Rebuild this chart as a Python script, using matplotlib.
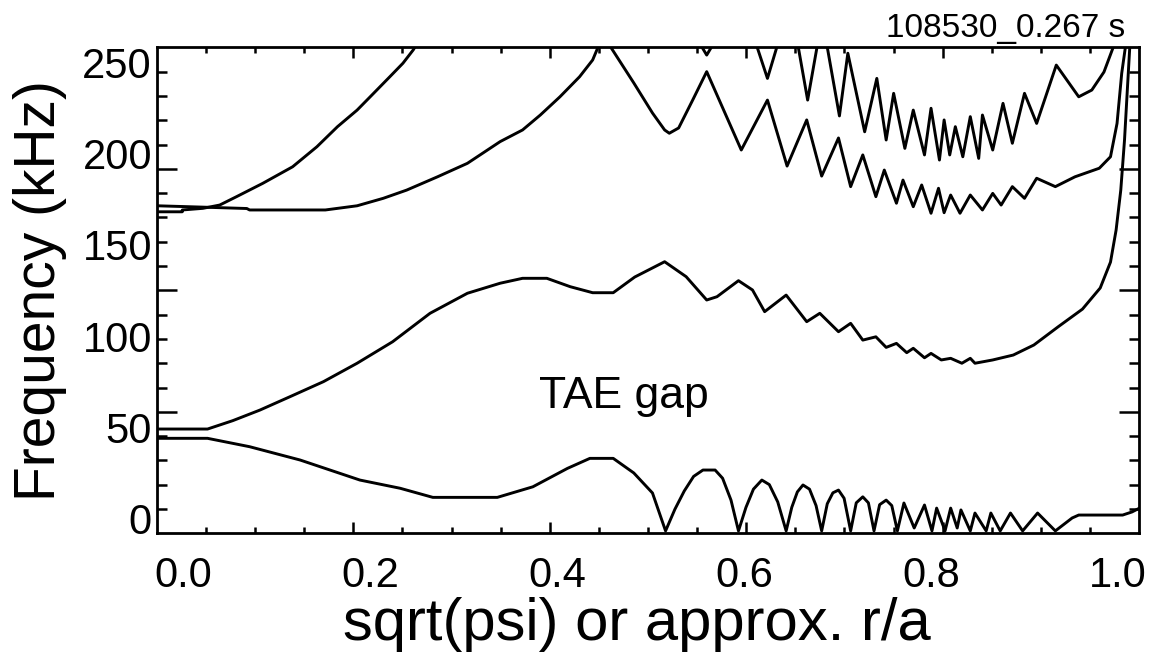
import numpy as np
import matplotlib.pyplot as plt

plt.rcParams['font.family'] = ['Liberation Sans', 'DejaVu Sans']

# Alfven continuum branches, frequency (kHz) vs sqrt(psi)
# lowest branch (bottom of the TAE gap)
b1_x = [-0.028, 0.026, 0.071, 0.125, 0.189, 0.232, 0.267, 0.336, 0.374, 0.411,
        0.435, 0.460, 0.482, 0.502, 0.516, 0.526, 0.536, 0.546, 0.556, 0.569,
        0.577, 0.586, 0.594, 0.602, 0.610, 0.619, 0.627, 0.636, 0.645, 0.651,
        0.657, 0.663, 0.670, 0.677, 0.683, 0.689, 0.695, 0.701, 0.707, 0.714,
        0.720, 0.727, 0.733, 0.739, 0.745, 0.752, 0.758, 0.764, 0.771, 0.782,
        0.793, 0.801, 0.806, 0.815, 0.821, 0.828, 0.832, 0.842, 0.847, 0.859,
        0.864, 0.874, 0.885, 0.898, 0.914, 0.933, 0.951, 0.958, 1.005, 1.015,
        1.023]
b1_f = [43.9, 43.9, 39.3, 32.0, 21.0, 16.5, 11.5, 11.5, 17.3, 27.4,
        32.9, 32.9, 24.9, 13.9, -6.9, 5.0, 15.0, 23.0, 26.5, 26.5,
        22.0, 10.0, -6.9, 6.0, 16.0, 21.0, 18.5, 9.0, -6.9, 6.0,
        14.5, 18.3, 16.0, 7.0, -6.9, 8.0, 14.0, 15.5, 11.0, -6.9,
        8.5, 11.8, 8.5, -6.9, 7.5, 10.0, 7.0, -6.9, 8.4, -5.3,
        7.3, -6.9, 5.6, -6.9, 5.6, -5.3, 4.6, -6.9, 2.9, -6.9,
        2.9, -6.9, 2.9, -6.9, 2.9, -6.9, 0.2, 1.8, 1.8, 3.5,
        5.6]

# top of the TAE gap
b2_x = [-0.028, 0.026, 0.053, 0.082, 0.114, 0.150, 0.186, 0.224, 0.264, 0.304,
        0.339, 0.363, 0.389, 0.414, 0.438, 0.460, 0.483, 0.515, 0.538, 0.560,
        0.571, 0.594, 0.609, 0.622, 0.645, 0.667, 0.681, 0.701, 0.714, 0.727,
        0.741, 0.752, 0.763, 0.774, 0.781, 0.793, 0.800, 0.811, 0.821, 0.833,
        0.842, 0.847, 0.866, 0.888, 0.910, 0.936, 0.962, 0.981, 0.992, 0.998,
        1.003, 1.007, 1.010, 1.013]
b2_f = [49.0, 49.0, 53.6, 59.4, 66.7, 75.0, 85.1, 96.9, 112.5, 123.5,
        129.0, 131.7, 131.7, 127.1, 123.8, 123.8, 132.4, 140.8, 132.6, 119.8,
        121.6, 130.4, 125.3, 113.4, 122.5, 107.9, 112.5, 102.4, 107.0, 97.8,
        99.6, 93.8, 96.0, 90.9, 93.3, 88.1, 90.5, 86.9, 87.8, 85.1,
        87.8, 85.1, 86.9, 89.6, 95.1, 105.1, 114.8, 126.4, 140.6, 158.2,
        180.1, 207.6, 235.0, 262.0]

# third branch (flat near 170 kHz at the axis)
b3_x = [-0.028, 0.018, 0.068, 0.071, 0.152, 0.186, 0.214, 0.239, 0.272, 0.304,
        0.339, 0.363, 0.382, 0.403, 0.424, 0.438, 0.447, 0.457, 0.482, 0.502,
        0.515, 0.520, 0.530, 0.545, 0.560, 0.597, 0.625, 0.646, 0.667, 0.683,
        0.701, 0.714, 0.727, 0.741, 0.750, 0.763, 0.770, 0.781, 0.790, 0.800,
        0.808, 0.814, 0.821, 0.831, 0.842, 0.855, 0.866, 0.875, 0.887, 0.900,
        0.913, 0.933, 0.954, 0.980, 0.992, 0.999, 1.004, 1.008, 1.009]
b3_f = [171.5, 170.8, 170.0, 169.2, 169.2, 171.5, 175.6, 180.1, 187.4, 194.8,
        206.7, 213.1, 221.3, 231.3, 242.3, 251.5, 262.5, 258.8, 238.9, 222.4,
        213.1, 211.3, 214.2, 229.5, 245.1, 202.1, 229.5, 193.3, 218.6, 187.8,
        208.7, 182.0, 199.4, 176.5, 191.1, 172.9, 185.6, 171.0, 182.9, 167.4,
        181.1, 167.7, 177.4, 167.4, 177.4, 169.2, 178.3, 171.9, 182.0, 175.6,
        186.6, 182.0, 187.4, 192.1, 198.4, 216.7, 244.2, 258.8, 262.5]

# fourth branch (steep one, goes off scale and comes back in dips)
b4_x = [-0.028, -0.001, -0.001, 0.021, 0.039, 0.057, 0.085, 0.117, 0.143, 0.165,
        0.186, 0.200, 0.221, 0.235, 0.246, 0.259, 0.553, 0.555, 0.560, 0.565,
        0.570, 0.609, 0.614, 0.625, 0.635, 0.641, 0.653, 0.658, 0.668, 0.678,
        0.682, 0.686, 0.689, 0.702, 0.711, 0.729, 0.742, 0.752, 0.760, 0.772,
        0.781, 0.793, 0.800, 0.809, 0.814, 0.820, 0.826, 0.834, 0.842, 0.851,
        0.855, 0.866, 0.877, 0.887, 0.900, 0.913, 0.934, 0.958, 0.972, 0.985,
        0.995, 0.998]
b4_f = [168.2, 168.2, 169.2, 170.1, 171.9, 176.5, 183.8, 192.9, 203.9, 214.9,
        224.0, 231.3, 242.3, 249.7, 257.0, 267.9, 267.9, 258.5, 254.2, 258.5,
        267.9, 267.9, 258.5, 241.4, 258.5, 267.9, 267.9, 258.5, 229.5, 258.5,
        267.9, 267.9, 258.5, 220.8, 255.2, 212.1, 241.4, 207.6, 233.2, 203.0,
        224.0, 199.4, 225.0, 196.6, 218.6, 199.4, 214.9, 198.4, 220.4, 197.5,
        221.3, 202.1, 227.7, 205.8, 233.2, 216.7, 248.7, 231.3, 235.0, 244.9,
        258.6, 267.9]

x_ticks = [0.0, 0.2, 0.4, 0.6, 0.8, 1.0]
x_ticklabels = ['0.0', '0.2', '0.4', '0.6', '0.8', '1.0']
y_ticks = [0, 50, 100, 150, 200, 250]

fig = plt.figure(figsize=(11.56, 6.59), dpi=100)
rect = [0.1358, 0.1907, 0.8495, 0.7375]
ax = fig.add_axes(rect)

for bx, bf in [(b1_x, b1_f), (b2_x, b2_f), (b3_x, b3_f), (b4_x, b4_f)]:
    ax.plot(bx, bf, color='black', lw=2.1)

ax.set_xlim(-0.0281, 1.0225)
ax.set_ylim(-8.23, 258.45)
for s in ax.spines.values():
    s.set_linewidth(2.0)

# labels sit where the picture puts them; tick marks come from a second axes
ax.set_xticks(x_ticks, x_ticklabels)
ax.set_yticks(y_ticks, [str(v) for v in y_ticks])
ax.tick_params(axis='both', length=0, labelsize=30)
ax.tick_params(axis='x', pad=16)
ax.tick_params(axis='y', pad=3.6)

ax.set_xlabel('sqrt(psi) or approx. r/a', fontsize=43)
ax.xaxis.set_label_coords(0.4888, -0.131)
ax.set_ylabel('Frequency (kHz)', fontsize=41)
ax.yaxis.set_label_coords(-0.0916, 0.5)

ax.text(0.4715, 60.5, 'TAE gap', fontsize=32, ha='center', va='baseline')
fig.text(0.9732, 0.9435, '108530_0.267 s', fontsize=24, ha='right', va='baseline')

tk = fig.add_axes(rect, frameon=False)
tk.set_xlim(0, 1)
tk.set_ylim(0, 1)
tk.set_xticks(np.arange(1, 5) * 0.2)
tk.set_xticks(np.arange(1, 20) * 0.05, minor=True)
tk.set_yticks(np.arange(1, 4) * 0.25)
tk.set_yticks(np.arange(1, 20) * 0.05, minor=True)
tk.tick_params(which='both', direction='in', top=True, right=True, width=1.8,
               labelbottom=False, labelleft=False)
tk.tick_params(axis='x', which='major', length=8)
tk.tick_params(axis='x', which='minor', length=4.3)
tk.tick_params(axis='y', which='major', length=14.4)
tk.tick_params(axis='y', which='minor', length=7.2)

fig.savefig('out.png', dpi=100)
